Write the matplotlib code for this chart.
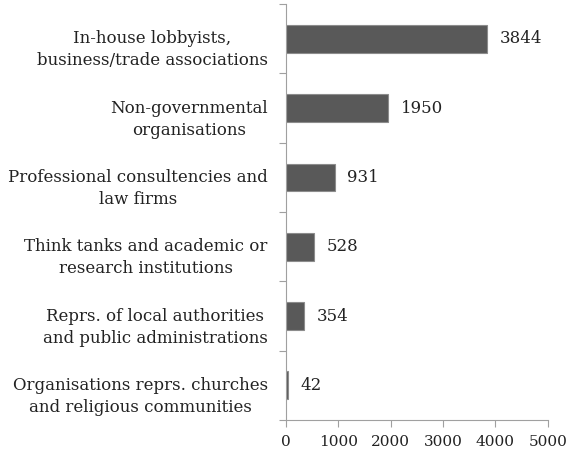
import matplotlib
matplotlib.use("Agg")
import matplotlib.pyplot as plt
import numpy as np

categories = [
    "In-house lobbyists,\nbusiness/trade associations",
    "Non-governmental\norganisations",
    "Professional consultencies and\nlaw firms",
    "Think tanks and academic or\nresearch institutions",
    "Reprs. of local authorities\nand public administrations",
    "Organisations reprs. churches\nand religious communities",
]
counts = [3844, 1950, 931, 528, 354, 42]
x_ticks = [0, 1000, 2000, 3000, 4000, 5000]

plt.rcParams["font.family"] = ["DejaVu Serif"]

fig = plt.figure(figsize=(5.73, 4.57), dpi=100)
ax = fig.add_axes([0.499, 0.081, 0.457, 0.91])

pos = np.arange(len(categories))[::-1]
ax.barh(pos, counts, height=0.4, color="#595959", edgecolor="#8c8c8c", linewidth=0.8)

for p, v in zip(pos, counts):
    ax.text(v + 240, p, str(v), va="center", ha="left", fontsize=12, color="#222222")

# category labels sit a little below the bar centre, like the source
for p, lab in zip(pos, categories):
    ax.annotate(lab, xy=(0, p), xycoords=("axes fraction", "data"),
                xytext=(-13, -8), textcoords="offset points",
                ha="right", va="center", multialignment="center",
                fontsize=12, linespacing=1.4, color="#222222")

ax.set_ylim(-0.5, len(categories) - 0.5)
ax.set_xlim(0, 5000)
ax.set_xticks(x_ticks)
ax.set_xticklabels([str(t) for t in x_ticks], fontsize=11)

ax.set_yticks(np.arange(len(categories) + 1) - 0.5)
ax.set_yticklabels([])
ax.tick_params(axis="y", length=5, color="#a0a0a0", direction="out")
ax.tick_params(axis="x", length=5, color="#a0a0a0", direction="out", pad=6,
               labelcolor="#222222")

for s in ["top", "right"]:
    ax.spines[s].set_visible(False)
for s in ["left", "bottom"]:
    ax.spines[s].set_color("#a0a0a0")

fig.savefig("out.png", dpi=100)
